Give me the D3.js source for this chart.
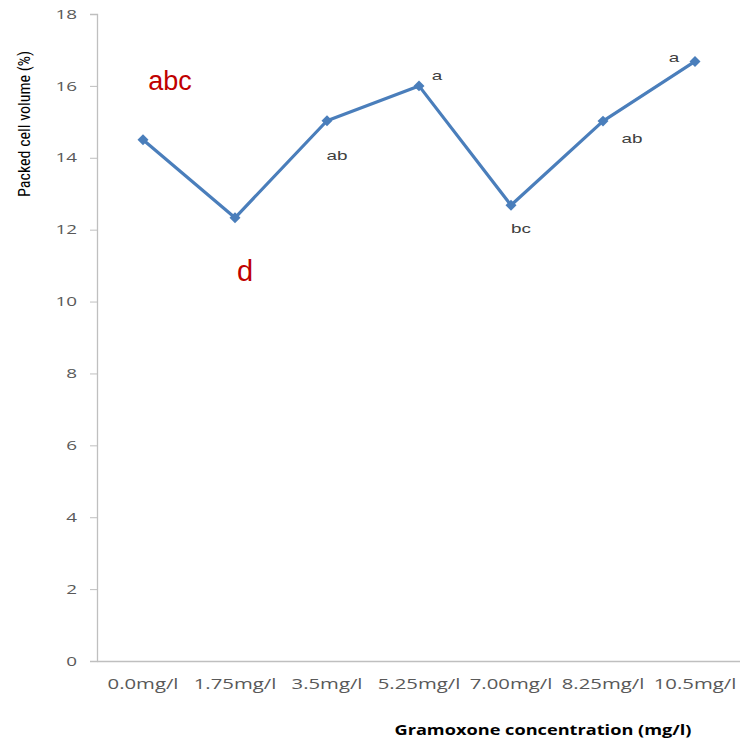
<!DOCTYPE html>
<html><head><meta charset="utf-8">
<script src="https://cdn.jsdelivr.net/npm/d3@7"></script>
<style>body{margin:0;background:#fff}svg{display:block}</style>
</head><body>
<script>
const categories = ["0.0mg/l","1.75mg/l","3.5mg/l","5.25mg/l","7.00mg/l","8.25mg/l","10.5mg/l"];
const values = [14.5, 12.33, 15.03, 16.0, 12.68, 15.02, 16.68];
const letters = ["abc","d","ab","a","bc","ab","a"];
const yTicks = [0,2,4,6,8,10,12,14,16,18];

const letterStyle = [
  {dx: 27, dy: -50, size: 27, color: "#c00000", stretch: 1},
  {dx: 10, dy: 63, size: 29, color: "#c00000", stretch: 1},
  {dx: 10, dy: 39, size: 13, color: "#404040", stretch: 1.45},
  {dx: 18, dy: -6, size: 13, color: "#404040", stretch: 1.45},
  {dx: 10, dy: 28, size: 13, color: "#404040", stretch: 1.45},
  {dx: 29, dy: 22, size: 13, color: "#404040", stretch: 1.45},
  {dx: -21, dy: 1, size: 13, color: "#404040", stretch: 1.45}
];

function stretch(sel, f){
  sel.each(function(){
    const l = this.getComputedTextLength();
    d3.select(this).attr("textLength", l*f).attr("lengthAdjust","spacingAndGlyphs");
  });
}

const W = 740, H = 743;
const svg = d3.select("body").append("svg").attr("width", W).attr("height", H);
const x = d3.scaleBand().domain(categories).range([97, 741]);
const y = d3.scaleLinear().domain([0, 18]).range([661, 14]);

const yAx = svg.append("g").attr("transform","translate(97,0)")
  .call(d3.axisLeft(y).tickValues(yTicks).tickSize(7).tickPadding(13));
yAx.select(".domain").attr("stroke","#bfbfbf").attr("stroke-width",1.3);
yAx.selectAll(".tick line").attr("stroke","#bfbfbf");
yAx.selectAll("text").attr("fill","#595959").style("font-family","'Open Sans', sans-serif").style("font-size","13px");
stretch(yAx.selectAll("text"), 1.45);

const xAx = svg.append("g").attr("transform","translate(0,661)")
  .call(d3.axisBottom(x).tickSize(0).tickPadding(18));
xAx.select(".domain").attr("stroke","#bfbfbf").attr("stroke-width",1.3);
xAx.selectAll("text").attr("fill","#595959").style("font-family","'Open Sans', sans-serif").style("font-size","14px");
stretch(xAx.selectAll("text"), 1.45);

const cx = d => x(d) + x.bandwidth()/2;
const pts = categories.map((c,i)=>[cx(c), y(values[i])]);

svg.append("path").attr("d", d3.line()(pts)).attr("fill","none")
  .attr("stroke","#4a7ebb").attr("stroke-width",3.2).attr("stroke-linejoin","round");

svg.selectAll("path.mk").data(pts).enter().append("path").attr("class","mk")
  .attr("d", d3.symbol(d3.symbolSquare, 60)())
  .attr("transform", d=>`translate(${d[0]},${d[1]}) rotate(45)`)
  .attr("fill","#4a7ebb");

const lt = svg.selectAll("text.lt").data(letters).enter().append("text").attr("class","lt")
  .attr("x",(d,i)=>pts[i][0]+letterStyle[i].dx)
  .attr("y",(d,i)=>pts[i][1]+letterStyle[i].dy)
  .attr("text-anchor","middle")
  .attr("fill",(d,i)=>letterStyle[i].color)
  .style("font-family","'Liberation Sans', Arial, sans-serif")
  .style("font-size",(d,i)=>letterStyle[i].size+"px")
  .text(d=>d);
lt.each(function(d,i){ stretch(d3.select(this), letterStyle[i].stretch); });

svg.append("text").attr("transform","translate(30,124) rotate(-90)")
  .attr("text-anchor","middle").attr("fill","#000")
  .style("font-family","'Liberation Sans Narrow','Roboto Condensed',Arial,sans-serif")
  .style("font-size","17px")
  .attr("textLength",146).attr("lengthAdjust","spacingAndGlyphs")
  .text("Packed cell volume (%)");

const xt = svg.append("text").attr("x",543).attr("y",735)
  .attr("text-anchor","middle").attr("fill","#000")
  .style("font-family","'Open Sans', sans-serif").style("font-weight","bold").style("font-size","13.5px")
  .text("Gramoxone concentration (mg/l)");
xt.attr("textLength",297).attr("lengthAdjust","spacingAndGlyphs");
</script>
</body></html>
